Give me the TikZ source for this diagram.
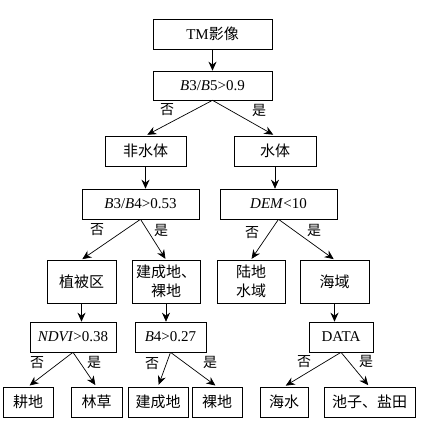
\documentclass[tikz,border=0pt]{standalone}
\usepackage{fontspec}
\setmainfont{Liberation Serif}
\newfontfamily\cjk{Noto Sans CJK SC}
\usetikzlibrary{arrows.meta}
\begin{document}
\begin{tikzpicture}[x=1pt,y=-1pt,
  box/.style={draw,line width=0.6pt,inner sep=0pt,align=center,font=\fontsize{15}{19}\selectfont},
  arr/.style={line width=0.7pt,-{Stealth[length=9pt,width=8pt]}},
  lbl/.style={font=\fontsize{14}{15}\selectfont\cjk,inner sep=0pt}]
\useasboundingbox (0,0) rectangle (423,425);
\node[box,minimum width=119,minimum height=30] (tm) at (212.5,34) {TM{\cjk 影像}};
\node[box,minimum width=119,minimum height=29] (c1) at (212.5,85.5) {\textit{B}3/\textit{B}5>0.9};
\node[box,minimum width=81,minimum height=30] (nw) at (145.5,151) {\cjk 非水体};
\node[box,minimum width=82,minimum height=30] (w) at (275,151) {\cjk 水体};
\node[box,minimum width=117,minimum height=30] (c2) at (140.5,204) {\textit{B}3/\textit{B}4>0.53};
\node[box,minimum width=117,minimum height=30] (c3) at (278.5,204) {\textit{DEM}<10};
\node[box,minimum width=69,minimum height=43] (veg) at (81.5,281.5) {\cjk 植被区};
\node[box,minimum width=68,minimum height=43] (bl) at (166,281.5) {\cjk 建成地、\\\cjk 裸地};
\node[box,minimum width=68,minimum height=43] (lw) at (251,281.5) {\cjk 陆地\\\cjk 水域};
\node[box,minimum width=69,minimum height=43] (sea) at (334.5,281.5) {\cjk 海域};
\node[box,minimum width=86,minimum height=30] (c4) at (73,337) {\textit{NDVI}>0.38};
\node[box,minimum width=71,minimum height=30] (c5) at (170.5,337) {\textit{B}4>0.27};
\node[box,minimum width=64,minimum height=30] (c6) at (341,337) {DATA};
\node[box,minimum width=50,minimum height=30] (l1) at (28,402) {\cjk 耕地};
\node[box,minimum width=51,minimum height=30] (l2) at (96.5,402) {\cjk 林草};
\node[box,minimum width=60,minimum height=30] (l3) at (158,402) {\cjk 建成地};
\node[box,minimum width=50,minimum height=30] (l4) at (217,402) {\cjk 裸地};
\node[box,minimum width=48,minimum height=30] (l5) at (284,402) {\cjk 海水};
\node[box,minimum width=91,minimum height=30] (l6) at (369.5,402) {\cjk 池子、盐田};
% vertical arrows
\draw[arr] (tm.south) -- (tm.south |- c1.north);
\draw[arr] (nw.south) -- (nw.south |- c2.north);
\draw[arr] (w.south) -- (w.south |- c3.north);
\draw[arr] (veg.south) -- (veg.south |- c4.north);
\draw[arr] (bl.south) -- (bl.south |- c5.north);
\draw[arr] (sea.south) -- (sea.south |- c6.north);
% branch arrows
\draw[arr,shorten >=2pt] (c1.south) -- (nw.north);
\draw[arr,shorten >=2pt] (c1.south) -- (w.north);
\draw[arr,shorten >=1pt] (c2.south) -- (veg.north);
\draw[arr,shorten >=1pt] (c2.south) -- (bl.north);
\draw[arr,shorten >=1pt] (c3.south) -- (lw.north);
\draw[arr,shorten >=1pt] (c3.south) -- (sea.north);
\draw[arr,shorten >=2pt] (c4.south) -- (l1.north);
\draw[arr,shorten >=2pt] (c4.south) -- (l2.north);
\draw[arr,shorten >=2pt] (c5.south) -- (l3.north);
\draw[arr,shorten >=2pt] (c5.south) -- (l4.north);
\draw[arr,shorten >=2pt] (c6.south) -- (l5.north);
\draw[arr,shorten >=2pt] (c6.south) -- (l6.north);
% labels
\node[lbl] (n1) at (167,110) {否};
\node[lbl] (y1) at (259,110) {是};
\node[lbl] (n2) at (97,230) {否};
\node[lbl] (y2) at (161,230) {是};
\node[lbl] (n3) at (252,233) {否};
\node[lbl] (y3) at (314,230) {是};
\node[lbl] (n4) at (37,363) {否};
\node[lbl] (y4) at (94,362) {是};
\node[lbl] (n5) at (152,364) {否};
\node[lbl] (y5) at (210,362) {是};
\node[lbl] (n6) at (304,362) {否};
\node[lbl] (y6) at (366,361) {是};
\end{tikzpicture}
\end{document}
